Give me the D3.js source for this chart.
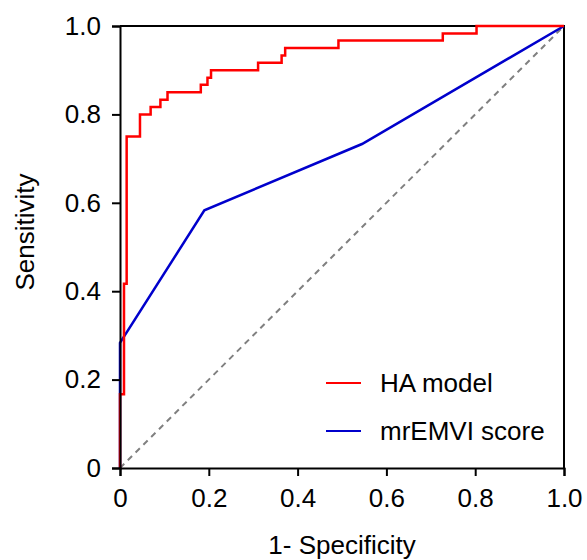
<!DOCTYPE html>
<html lang="en">
<head>
  <meta charset="utf8">
  <script type="text/javascript" src="https://cdn.jsdelivr.net/npm/d3@7"></script>
  <title>ROC</title>
  <style>
    body { margin: 0; background: #fff; }
    text { font-family: "Liberation Sans", Arial, sans-serif; fill: #000; }
  </style>
</head>
<body>
  <div id="chart"></div>
</body>
<script type="text/javascript">

  var width = 587, height = 560;
  var margin = { top: 26, right: 23, bottom: 92, left: 120 };

  // HA model ROC corners (fpr, tpr), drawn as steps
  var haFpr = [0, 0, 0.009, 0.015, 0.045, 0.069, 0.091, 0.107, 0.182, 0.197, 0.205, 0.311, 0.364, 0.372, 0.492, 0.727, 0.803, 1];
  var haTpr = [0, 0.167, 0.417, 0.75, 0.8, 0.817, 0.833, 0.85, 0.867, 0.883, 0.9, 0.917, 0.933, 0.95, 0.967, 0.983, 1, 1];

  // mrEMVI score ROC points
  var mrFpr = [0, 0, 0.19, 0.545, 1];
  var mrTpr = [0, 0.283, 0.583, 0.733, 1];

  var ticks = [0, 0.2, 0.4, 0.6, 0.8, 1.0];
  var tickLabels = ["0", "0.2", "0.4", "0.6", "0.8", "1.0"];
  var seriesNames = ["HA model", "mrEMVI score"];
  var seriesColors = ["#ff0000", "#0000cc"];

  var fontSize = "26px";

  var svg = d3.select("#chart").append("svg")
    .attr("width", width).attr("height", height);

  var x = d3.scaleLinear().domain([0, 1]).range([margin.left, width - margin.right]);
  var y = d3.scaleLinear().domain([0, 1]).range([height - margin.bottom, margin.top]);

  var ha = haFpr.map(function (d, i) { return [d, haTpr[i]]; });
  var mr = mrFpr.map(function (d, i) { return [d, mrTpr[i]]; });

  // frame (top and right)
  svg.append("path")
    .attr("d", "M" + x(0) + "," + y(1) + "H" + x(1) + "V" + y(0))
    .attr("fill", "none").attr("stroke", "#000").attr("stroke-width", 2);

  // reference diagonal
  svg.append("line")
    .attr("x1", x(0)).attr("y1", y(0)).attr("x2", x(1)).attr("y2", y(1))
    .attr("stroke", "#808080").attr("stroke-width", 2)
    .attr("stroke-dasharray", "6,5");

  var line = d3.line().x(function (d) { return x(d[0]); }).y(function (d) { return y(d[1]); });

  svg.append("path").datum(mr)
    .attr("d", line)
    .attr("fill", "none").attr("stroke", seriesColors[1]).attr("stroke-width", 2.5);

  svg.append("path").datum(ha)
    .attr("d", line.curve(d3.curveStepAfter))
    .attr("fill", "none").attr("stroke", seriesColors[0]).attr("stroke-width", 2.5);

  // axes
  var xAxis = d3.axisBottom(x).tickValues(ticks)
    .tickFormat(function (d, i) { return tickLabels[i]; })
    .tickSize(8).tickPadding(13);
  var yAxis = d3.axisLeft(y).tickValues(ticks)
    .tickFormat(function (d, i) { return tickLabels[i]; })
    .tickSize(8).tickPadding(11);

  var gx = svg.append("g").attr("transform", "translate(0," + y(0) + ")").call(xAxis);
  var gy = svg.append("g").attr("transform", "translate(" + x(0) + ",0)").call(yAxis);

  [gx, gy].forEach(function (g) {
    g.select(".domain").attr("stroke", "#000").attr("stroke-width", 2);
    g.selectAll(".tick line").attr("stroke", "#000").attr("stroke-width", 2);
    g.selectAll(".tick text").style("font-size", fontSize)
      .style("font-family", "'Liberation Sans', Arial, sans-serif").attr("fill", "#000");
  });

  // axis titles
  svg.append("text")
    .attr("x", (x(0) + x(1)) / 2).attr("y", 554)
    .attr("text-anchor", "middle").style("font-size", fontSize)
    .text("1- Specificity");

  svg.append("text")
    .attr("transform", "translate(34," + (y(0.5) - 15) + ") rotate(-90)")
    .attr("text-anchor", "middle").style("font-size", fontSize)
    .text("Sensitivity");

  // legend
  var legend = svg.append("g").attr("transform", "translate(326,383)");
  seriesNames.forEach(function (name, i) {
    var row = legend.append("g").attr("transform", "translate(0," + (i * 48) + ")");
    row.append("line").attr("x1", 0).attr("x2", 35).attr("y1", 0).attr("y2", 0)
      .attr("stroke", seriesColors[i]).attr("stroke-width", 2);
    row.append("text").attr("x", 54).attr("y", 9)
      .style("font-size", fontSize).text(name);
  });

</script>
</html>
